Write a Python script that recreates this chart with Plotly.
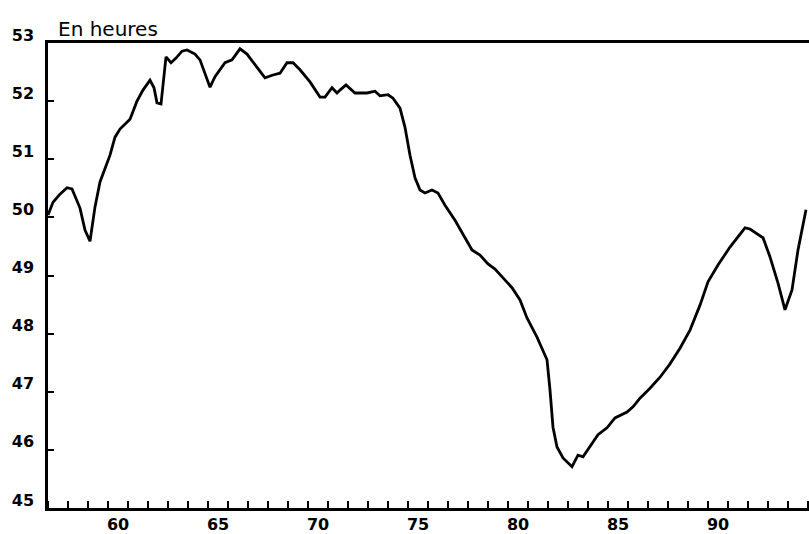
import plotly.graph_objects as go

# Decimal years (1900s) and weekly working hours
years = [57.00, 57.25, 57.60, 57.95, 58.20, 58.60, 58.85, 59.10, 59.35, 59.60,
         60.10, 60.35, 60.60, 61.10, 61.45, 61.75, 62.10, 62.30, 62.45, 62.65,
         62.90, 63.15, 63.40, 63.70, 63.95, 64.35, 64.60, 64.95, 65.10, 65.35,
         65.85, 66.20, 66.60, 66.95, 67.35, 67.60, 67.85, 68.25, 68.60, 68.95,
         69.25, 69.60, 70.10, 70.60, 70.85, 71.20, 71.45, 71.60, 71.90, 72.35,
         72.95, 73.35, 73.60, 74.00, 74.25, 74.60, 74.85, 75.10, 75.35, 75.60,
         75.85, 76.20, 76.50, 76.85, 77.35, 77.85, 78.20, 78.60, 79.00, 79.35,
         79.85, 80.20, 80.60, 80.95, 81.45, 81.95, 82.10, 82.25, 82.45, 82.75,
         83.20, 83.50, 83.75, 84.10, 84.50, 84.95, 85.35, 85.95, 86.25, 86.60,
         87.10, 87.60, 88.10, 88.60, 89.10, 89.60, 90.00, 90.50, 91.10, 91.85,
         92.10, 92.75, 93.10, 93.50, 93.85, 94.20, 94.50, 94.90]

hours = [50.04, 50.26, 50.40, 50.51, 50.49, 50.16, 49.78, 49.59, 50.18, 50.61,
         51.07, 51.38, 51.52, 51.69, 52.00, 52.19, 52.36, 52.23, 51.97, 51.95,
         52.76, 52.66, 52.74, 52.86, 52.88, 52.81, 52.71, 52.36, 52.24, 52.42,
         52.66, 52.71, 52.90, 52.81, 52.62, 52.50, 52.40, 52.45, 52.48, 52.66,
         52.66, 52.54, 52.33, 52.07, 52.07, 52.23, 52.14, 52.19, 52.28, 52.14,
         52.14, 52.17, 52.09, 52.11, 52.05, 51.88, 51.55, 51.07, 50.68, 50.47,
         50.42, 50.47, 50.42, 50.21, 49.95, 49.65, 49.44, 49.35, 49.20, 49.11,
         48.92, 48.79, 48.58, 48.27, 47.94, 47.55, 47.03, 46.39, 46.05, 45.86,
         45.71, 45.91, 45.88, 46.05, 46.26, 46.38, 46.55, 46.65, 46.74, 46.89,
         47.06, 47.25, 47.48, 47.75, 48.06, 48.49, 48.89, 49.18, 49.49, 49.82,
         49.80, 49.65, 49.32, 48.87, 48.41, 48.75, 49.44, 50.13]

x_label_pos = [60.5, 65.5, 70.5, 75.5, 80.5, 85.5, 90.5]
x_label_text = ["60", "65", "70", "75", "80", "85", "90"]
y_ticks = [45, 46, 47, 48, 49, 50, 51, 52, 53]
unit_label = "En heures"

tick_font = dict(family="DejaVu Sans", size=16, color="black", weight="bold")

fig = go.Figure()
fig.add_trace(go.Scatter(x=years, y=hours, mode="lines",
                         line=dict(color="black", width=2.8),
                         hoverinfo="skip", showlegend=False))

fig.update_layout(
    width=809, height=534, autosize=False,
    margin=dict(l=48, r=0, t=43, b=26, pad=0, autoexpand=False),
    paper_bgcolor="white", plot_bgcolor="white",
    xaxis=dict(range=[57, 95.05], showgrid=False, zeroline=False, automargin=False,
               showline=True, linecolor="black", linewidth=2.5, mirror=True,
               tickmode="array", tickvals=x_label_pos, ticktext=x_label_text,
               ticks="", ticklabelstandoff=0,
               tickfont=dict(family="DejaVu Sans", size=16, color="black", weight="bold"),
               minor=dict(ticks="inside", ticklen=7, tickwidth=2, tickcolor="black",
                          tickmode="linear", tick0=0, dtick=1, showgrid=False)),
    yaxis=dict(range=[45, 53], showgrid=False, zeroline=False, automargin=False,
               showline=True, linecolor="black", linewidth=2.5, mirror=False,
               tickmode="array", tickvals=y_ticks,
               ticks="inside", ticklen=6, tickwidth=2, tickcolor="black",
               tickfont=tick_font, ticklabelshift=-8, ticklabelstandoff=8),
    annotations=[dict(text=unit_label, xref="paper", yref="paper", x=0, y=1,
                      xanchor="left", yanchor="bottom", showarrow=False,
                      xshift=8, yshift=0,
                      font=dict(family="DejaVu Sans", size=20, color="black"))],
)

fig.write_html("out.html", config={"displayModeBar": False},
               post_script="document.body.style.margin='0';document.body.style.overflow='hidden';")
